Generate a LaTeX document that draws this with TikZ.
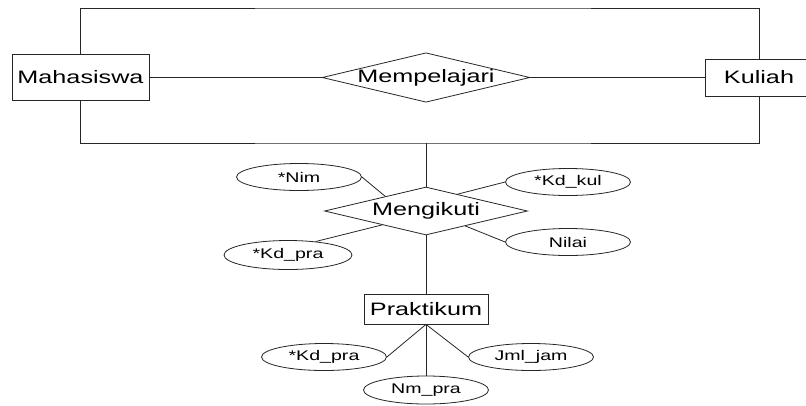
\documentclass[tikz,border=0pt]{standalone}
\usepackage{fontspec}
\setmainfont[FakeStretch=1.4]{Liberation Sans}
\usetikzlibrary{shapes.geometric,calc}
\begin{document}
\begin{tikzpicture}[x=1pt,y=-1pt,
  link/.style={draw=black!85,line width=0.8pt},
  entity/.style={draw=black!85,line width=0.8pt,fill=white,rectangle,inner sep=0pt,
    font=\fontsize{18}{20}\selectfont},
  relation/.style={draw=black!85,line width=0.8pt,fill=white,diamond,aspect=4.2,inner sep=0pt,
    font=\fontsize{18}{20}\selectfont},
  attr/.style={draw=black!85,line width=0.8pt,fill=white,ellipse,inner sep=0pt,
    minimum width=125pt,minimum height=27pt,font=\fontsize{14}{16}\selectfont}]
\useasboundingbox (0,0) rectangle (806,405);

% entities and relationships
\node[entity,minimum width=137pt,minimum height=46pt] (maha) at (80.5,77.5) {Mahasiswa};
\node[entity,minimum width=108pt,minimum height=37pt] (kul) at (759,77.5) {Kuliah};
\node[relation,minimum width=204pt,minimum height=48pt] (mem) at (426,77.5) {Mempelajari};
\node[relation,minimum width=203pt,minimum height=48pt] (men) at (426,211) {Mengikuti};
\node[entity,minimum width=124pt,minimum height=30pt] (prak) at (426,309) {Praktikum};

% attributes
\node[attr] (nim) at (299,177) {*Nim};
\node[attr] (kdkul) at (568,182) {*Kd\_kul};
\node[attr] (nilai) at (568,242) {Nilai};
\node[attr,minimum width=128pt,minimum height=29pt] (kdpra) at (288,255) {*Kd\_pra};
\node[attr] (kdpra2) at (324,357) {*Kd\_pra};
\node[attr] (jml) at (531,357) {Jml\_jam};
\node[attr,minimum height=28pt] (nmpra) at (426,390) {Nm\_pra};

% aggregation frame around Mahasiswa -- Mempelajari -- Kuliah
\coordinate (ftop) at (426,8);
\coordinate (fbot) at (426,143);
\draw[link] (maha.north) |- (ftop) -| (kul.north);
\draw[link] (maha.south) |- (fbot) -| (kul.south);
\draw[link] (fbot) -- (men.north);

% relationship links
\draw[link] (maha.east) -- (mem.west);
\draw[link] (mem.east) -- (kul.west);
\draw[link] (men.south) -- (prak.north);

% attribute links
\draw[link] (nim.east) -- ($(men.west)!0.6!(men.north)$);
\draw[link] (kdkul.west) -- ($(men.north)!0.31!(men.east)$);
\draw[link] (nilai.west) -- ($(men.south)!0.386!(men.east)$);
\draw[link] (kdpra.26) -- ($(men.west)!0.57!(men.south)$);
\draw[link] (prak.south) -- (kdpra2.east);
\draw[link] (prak.south) -- (jml.west);
\draw[link] (prak.south) -- (nmpra.north);
\end{tikzpicture}
\end{document}
